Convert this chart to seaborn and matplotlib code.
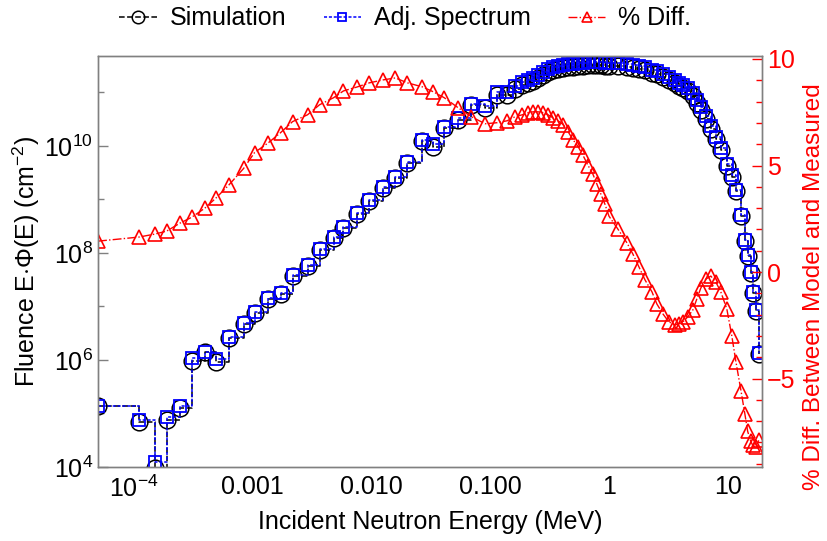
import numpy as np
import pandas as pd
import seaborn as sns
import matplotlib.pyplot as plt
from matplotlib.ticker import FixedLocator, NullFormatter, MultipleLocator

# incident neutron energy (MeV)
energy = [
    5.0e-5, 1.10e-4, 1.50e-4, 1.89e-4, 2.44e-4, 3.07e-4, 3.95e-4, 4.89e-4, 6.28e-4, 8.40e-4,
    1.04e-3, 1.36e-3, 1.72e-3, 2.17e-3, 2.90e-3, 3.66e-3, 4.80e-3, 5.82e-3, 7.62e-3, 9.62e-3,
    1.26e-2, 1.59e-2, 2.01e-2, 2.69e-2, 3.32e-2, 4.11e-2, 5.38e-2, 6.92e-2, 9.08e-2,
    0.115, 0.139, 0.162, 0.186, 0.209, 0.230, 0.253, 0.279, 0.307, 0.338, 0.373, 0.411,
    0.452, 0.498, 0.549, 0.605, 0.667, 0.734, 0.793, 0.857, 0.925, 1.00,
    1.19, 1.42, 1.59, 1.79, 2.01, 2.30, 2.53, 2.84, 3.19, 3.59, 3.87, 4.19, 4.61, 5.08,
    5.49, 5.93, 6.53, 7.20, 7.93, 8.73, 9.81, 10.8, 11.7, 12.9, 13.9, 14.7, 15.6, 16.2,
    17.2, 18.2,
]

# log10 of E*Phi(E), adjusted spectrum
adj_exp = [
    5.14, 4.88, 4.09, 4.93, 5.14, 6.04, 6.15, 6.02, 6.43, 6.69,
    6.90, 7.16, 7.25, 7.59, 7.78, 8.07, 8.30, 8.49, 8.75, 8.99,
    9.23, 9.42, 9.70, 10.11, 10.04, 10.36, 10.52, 10.79, 10.75,
    11.01, 11.01, 11.12, 11.20, 11.23, 11.27, 11.33, 11.38, 11.44, 11.48, 11.50, 11.51,
    11.53, 11.53, 11.55, 11.55, 11.57, 11.57, 11.57, 11.57, 11.55, 11.55,
    11.55, 11.53, 11.51, 11.50, 11.48, 11.42, 11.40, 11.35, 11.29, 11.23, 11.18, 11.14, 11.08, 10.99,
    10.86, 10.73, 10.56, 10.37, 10.17, 9.96, 9.66, 9.46, 9.18, 8.71, 8.24, 7.96, 7.64, 7.27,
    6.93, 6.13,
]

# log10 of E*Phi(E), simulation
sim_exp = [
    5.14, 4.85, 3.98, 4.88, 5.11, 5.98, 6.14, 5.96, 6.41, 6.67,
    6.88, 7.14, 7.23, 7.57, 7.76, 8.05, 8.28, 8.47, 8.73, 8.97,
    9.21, 9.40, 9.68, 10.09, 9.98, 10.33, 10.49, 10.76, 10.71,
    10.95, 10.95, 11.06, 11.14, 11.17, 11.21, 11.27, 11.32, 11.38, 11.42, 11.44, 11.45,
    11.47, 11.47, 11.49, 11.49, 11.51, 11.51, 11.51, 11.51, 11.49, 11.49,
    11.49, 11.47, 11.45, 11.44, 11.42, 11.36, 11.34, 11.29, 11.23, 11.17, 11.12, 11.08, 11.02, 10.93,
    10.80, 10.67, 10.50, 10.31, 10.13, 9.92, 9.62, 9.42, 9.15, 8.69, 8.23, 7.95, 7.63, 7.26,
    6.92, 6.12,
]

# % difference between model and measured
pct_diff = [
    1.45, 1.64, 1.78, 1.92, 2.29, 2.57, 2.99, 3.46, 4.07, 4.86,
    5.61, 6.07, 6.54, 7.06, 7.38, 7.85, 8.18, 8.50, 8.69, 8.88,
    9.02, 9.11, 8.88, 8.69, 8.46, 8.18, 7.71, 7.29, 6.96,
    7.01, 7.10, 7.29, 7.38, 7.48, 7.52, 7.52, 7.48, 7.38, 7.24, 7.10, 6.92,
    6.59, 6.21, 5.89, 5.47, 5.00, 4.58, 4.11, 3.64, 3.18, 2.62,
    2.01, 1.36, 0.84, 0.23, -0.37, -0.93, -1.50, -1.96, -2.34, -2.48, -2.43, -2.34, -2.10, -1.78,
    -1.26, -0.75, -0.33, -0.19, -0.47, -0.93, -1.73, -2.99, -4.21, -5.56, -6.64, -7.48, -7.94, -8.13,
    -8.22, -7.90,
]

df = pd.DataFrame({
    'energy': energy,
    'sim': 10 ** np.array(sim_exp),
    'adj': 10 ** np.array(adj_exp),
    'diff': pct_diff,
})

sns.set_style('white')
plt.rcParams['font.family'] = ['Liberation Sans', 'DejaVu Sans']
plt.rcParams['mathtext.fontset'] = 'custom'
plt.rcParams['mathtext.rm'] = 'Liberation Sans'
plt.rcParams['mathtext.it'] = 'Liberation Sans:italic'
plt.rcParams['axes.unicode_minus'] = True
plt.rcParams['text.color'] = 'black'
plt.rcParams['axes.labelcolor'] = 'black'

fig = plt.figure(figsize=(8.27, 5.41), dpi=100)
ax = fig.add_axes([0.1185, 0.1368, 0.8029, 0.7597])

sns.lineplot(df, x='energy', y='sim', ax=ax, estimator=None, sort=False,
             color='black', linestyle='--', linewidth=1.1, drawstyle='steps-post',
             marker='o', markersize=12, markerfacecolor='none',
             markeredgecolor='black', markeredgewidth=1.1, label='Simulation')
sns.lineplot(df, x='energy', y='adj', ax=ax, estimator=None, sort=False,
             color='blue', linestyle=(0, (2, 1.2)), linewidth=1.1, drawstyle='steps-post',
             marker='s', markersize=8, markerfacecolor='none',
             markeredgecolor='blue', markeredgewidth=1.3, label='Adj. Spectrum')

ax.set_xscale('log')
ax.set_yscale('log')
ax.set_xlim(5.0e-5, 19.4)
ax.set_ylim(1e4, 4.8e11)

ax2 = ax.twinx()
sns.lineplot(df, x='energy', y='diff', ax=ax2, estimator=None, sort=False,
             color='red', linestyle='-.', linewidth=1.0,
             marker='^', markersize=10, markerfacecolor='none',
             markeredgecolor='red', markeredgewidth=1.2, label='% Diff.')
ax2.set_xscale('log')
ax2.set_xlim(5.0e-5, 19.4)
ax2.set_ylim(-9.15, 10.14)

# ticks
ax.xaxis.set_major_locator(FixedLocator([1e-4, 1e-3, 1e-2, 1e-1, 1, 10]))
ax.set_xticklabels([r'$10^{-4}$', '0.001', '0.010', '0.100', '1', '10'])
ax.xaxis.set_minor_formatter(NullFormatter())
ax.yaxis.set_major_locator(FixedLocator([1e4, 1e6, 1e8, 1e10]))
ax.set_yticklabels([r'$10^{4}$', r'$10^{6}$', r'$10^{8}$', r'$10^{10}$'])
ax.yaxis.set_minor_locator(FixedLocator([1e5, 1e7, 1e9, 1e11]))
ax.yaxis.set_minor_formatter(NullFormatter())
ax.tick_params(which='both', direction='in', color='gray', labelcolor='black',
               labelsize=18, width=1)
ax.tick_params(which='major', length=7)
ax.tick_params(which='minor', length=4)
ax.tick_params(axis='x', pad=6)

ax2.yaxis.set_major_locator(FixedLocator([-5, 0, 5, 10]))
ax2.yaxis.set_minor_locator(MultipleLocator(1))
ax2.tick_params(axis='y', which='both', direction='in', color='red',
                labelcolor='red', labelsize=18, width=1)
ax2.tick_params(axis='y', which='major', length=7)
ax2.tick_params(axis='y', which='minor', length=4)

for a in (ax, ax2):
    for s in a.spines.values():
        s.set_color('gray')
        s.set_linewidth(1.0)

ax.set_xlabel('Incident Neutron Energy (MeV)', fontsize=18, labelpad=6)
ax.set_ylabel(r'Fluence E$\cdot$Φ(E) (cm$^{-2}$)', fontsize=18, labelpad=2)
ax2.set_ylabel('% Diff. Between Model and Measured', fontsize=17.5, color='red')
ax2.yaxis.set_label_coords(1.062, 0.44)

h1, l1 = ax.get_legend_handles_labels()
h2, l2 = ax2.get_legend_handles_labels()
ax.get_legend().remove()
ax2.get_legend().remove()
fig.legend(h1 + h2, l1 + l2, loc='center', bbox_to_anchor=(0.49, 0.966), ncol=3,
           frameon=False, fontsize=18, handlelength=1.5, handletextpad=0.5,
           columnspacing=1.5, markerscale=0.75)

plt.savefig('out.png', dpi=100)
